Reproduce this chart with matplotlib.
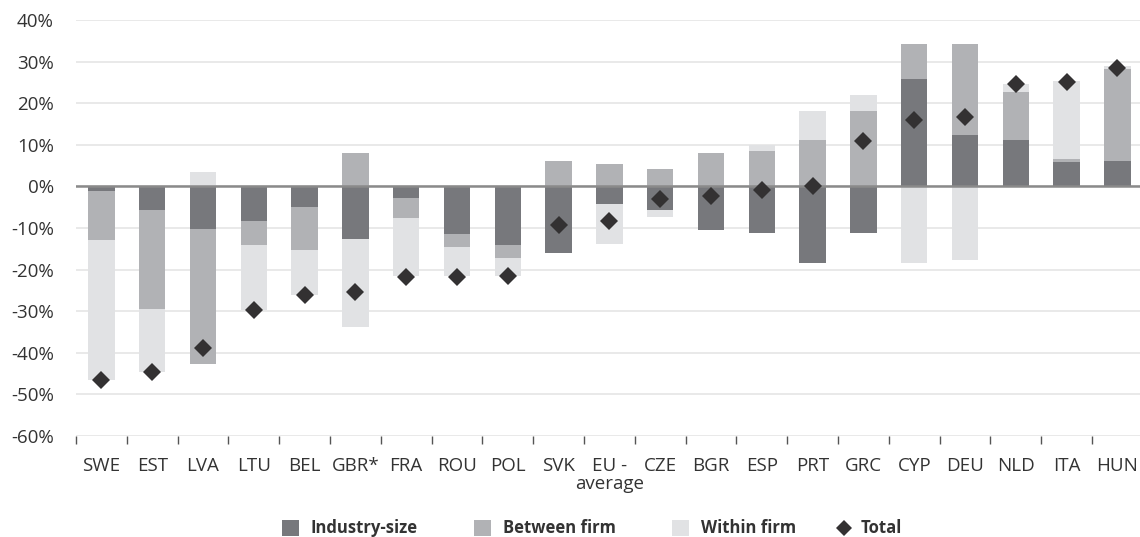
import numpy as np
import matplotlib
matplotlib.use("Agg")
import matplotlib.pyplot as plt
from matplotlib.patches import Rectangle
from matplotlib.lines import Line2D

plt.rcParams['font.family'] = ['Open Sans', 'DejaVu Sans']

categories = ["SWE", "EST", "LVA", "LTU", "BEL", "GBR*", "FRA", "ROU", "POL", "SVK",
              "EU -\naverage", "CZE", "BGR", "ESP", "PRT", "GRC", "CYP", "DEU", "NLD", "ITA", "HUN"]
industry_size = [-1.0, -5.6, -10.2, -8.2, -4.9, -12.6, -2.9, -11.4, -14.0, -15.9,
                 -4.3, -5.6, -10.6, -11.3, -18.3, -11.3, 25.9, 12.4, 11.2, 5.9, 6.2]
between_firm = [-11.8, -23.8, -32.6, -5.8, -10.3, 8.1, -4.6, -3.1, -3.1, 6.2,
                5.5, 4.3, 8.1, 8.6, 11.2, 18.2, 8.4, 21.9, 11.6, 0.8, 22.0]
within_firm = [-33.8, -15.3, 3.5, -15.8, -10.8, -21.3, -14.1, -7.1, -4.5, 0.0,
               -9.6, -1.8, 0.0, 1.4, 7.0, 3.8, -18.3, -17.8, 1.9, 18.7, 0.7]
total = [-46.6, -44.5, -38.8, -29.8, -26.0, -25.5, -21.8, -21.7, -21.6, -9.3,
         -8.3, -3.0, -2.4, -0.8, 0.2, 10.9, 15.9, 16.8, 24.5, 25.0, 28.4]
series_names = ["Industry-size", "Between firm", "Within firm"]
total_name = "Total"
colors = ["#77787c", "#b1b2b5", "#e1e2e4"]
total_color = "#333132"
text_color = "#333333"

W, H = 1140, 537
fig = plt.figure(figsize=(W / 100, H / 100), dpi=100)
ax = fig.add_axes([76 / W, 101 / H, 1066.8 / W, 416 / H])

x = np.arange(len(categories))
pos_base = np.zeros(len(categories))
neg_base = np.zeros(len(categories))
for name, vals, col in zip(series_names, [industry_size, between_firm, within_firm], colors):
    v = np.array(vals, dtype=float)
    bottoms = np.where(v >= 0, pos_base, neg_base)
    ax.bar(x, v, bottom=bottoms, width=0.52, color=col, linewidth=0, zorder=3)
    pos_base = pos_base + np.where(v > 0, v, 0)
    neg_base = neg_base + np.where(v < 0, v, 0)

ax.plot(x, total, linestyle='none', marker='D', markersize=9.3, color=total_color,
        markeredgewidth=0, zorder=5)

ax.set_xlim(-0.5, len(categories) - 0.5)
ax.set_ylim(-60, 40)
yt = np.arange(-60, 41, 10)
ax.set_yticks(yt)
ax.set_yticklabels([f"{v}%" for v in yt])
for v in yt:
    ax.axhline(v, color="#e9e9e9", linewidth=1.4, zorder=1)
ax.axhline(0, color="#8a8a8a", linewidth=1.8, zorder=4)

ax.set_xticks(x)
ax.set_xticklabels(categories, linespacing=1.0)
ax.set_xticks(np.arange(-0.5, len(categories) - 1, 1.0), minor=True)
ax.tick_params(axis='x', which='major', length=0, pad=15, labelsize=13.5, labelcolor=text_color)
ax.tick_params(axis='x', which='minor', length=6, width=1, color="#555555", direction='out')
ax.tick_params(axis='y', length=0, pad=16, labelsize=13.5, labelcolor=text_color)
for s in ax.spines.values():
    s.set_visible(False)

# legend, placed by hand to match the reference spacing
leg_x = [282, 474, 672, 836]
base_y = (H - 533) / H
for lx, name, col in zip(leg_x[:3], series_names, colors):
    fig.add_artist(Rectangle((lx / W, (H - 536) / H), 17 / W, 16 / H,
                             transform=fig.transFigure, facecolor=col, edgecolor='none'))
    fig.text((lx + 29) / W, base_y, name, fontsize=12, fontweight='bold',
             color=text_color, va='baseline', ha='left')
fig.add_artist(Line2D([(leg_x[3] + 8) / W], [(H - 528) / H], transform=fig.transFigure,
                      linestyle='none', marker='D', markersize=7.9, color=total_color,
                      markeredgewidth=0))
fig.text((leg_x[3] + 25) / W, base_y, total_name, fontsize=12, fontweight='bold',
         color=text_color, va='baseline', ha='left')

fig.savefig("out.png", dpi=100)
